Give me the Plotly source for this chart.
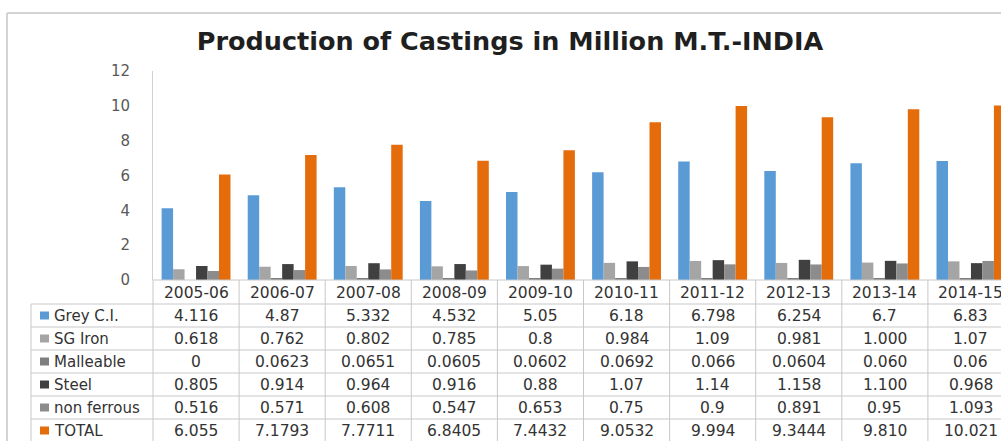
import plotly.graph_objects as go

# ---------------- data ----------------
categories = ["2005-06", "2006-07", "2007-08", "2008-09", "2009-10",
              "2010-11", "2011-12", "2012-13", "2013-14", "2014-15"]

series_names = ["Grey C.I.", "SG Iron", "Malleable", "Steel", "non ferrous", "TOTAL"]

grey_ci_text = ["4.116", "4.87", "5.332", "4.532", "5.05", "6.18", "6.798", "6.254", "6.7", "6.83"]
sg_iron_text = ["0.618", "0.762", "0.802", "0.785", "0.8", "0.984", "1.09", "0.981", "1.000", "1.07"]
malleable_text = ["0", "0.0623", "0.0651", "0.0605", "0.0602", "0.0692", "0.066", "0.0604", "0.060", "0.06"]
steel_text = ["0.805", "0.914", "0.964", "0.916", "0.88", "1.07", "1.14", "1.158", "1.100", "0.968"]
non_ferrous_text = ["0.516", "0.571", "0.608", "0.547", "0.653", "0.75", "0.9", "0.891", "0.95", "1.093"]
total_text = ["6.055", "7.1793", "7.7711", "6.8405", "7.4432", "9.0532", "9.994", "9.3444", "9.810", "10.021"]

table_texts = [grey_ci_text, sg_iron_text, malleable_text, steel_text, non_ferrous_text, total_text]
series_values = [[float(v) for v in t] for t in table_texts]

colors = ["#5B9BD5", "#A5A5A5", "#7F7F7F", "#404040", "#8C8C8C", "#E46C0A"]

# ---------------- layout geometry ----------------
W, H = 1001, 441
ML, MR, MT, MB = 153, 0, 71, 161
PW, PH = W - ML - MR, H - MT - MB
CAT_PX = 86.1
x_range = [-0.5, -0.5 + PW / CAT_PX]


def px(x):
    return (x - ML) / PW


def py(y):
    return (H - MB - y) / PH


fig = go.Figure()
for name, vals, col in zip(series_names, series_values, colors):
    fig.add_trace(go.Bar(x=categories, y=vals, name=name, marker_color=col,
                         marker_line_width=0, showlegend=False))

grid = "#C8C8C8"
shapes = []
# outer chart border
shapes.append(dict(type="line", xref="paper", yref="paper", x0=px(7), x1=px(W + 5),
                   y0=py(13), y1=py(13), line=dict(color="#D4D4D4", width=2)))
shapes.append(dict(type="line", xref="paper", yref="paper", x0=px(7), x1=px(7),
                   y0=py(13), y1=py(H + 5), line=dict(color="#D4D4D4", width=2)))
# table top line
shapes.append(dict(type="line", xref="paper", yref="paper", x0=0, x1=px(W + 5),
                   y0=0, y1=0, line=dict(color=grid, width=1)))
# table row lines
row_top = 304
row_h = 23
for r in range(6):
    yy = row_top + r * row_h
    shapes.append(dict(type="line", xref="paper", yref="paper", x0=px(31), x1=px(W + 5),
                       y0=py(yy), y1=py(yy), line=dict(color=grid, width=1)))
# left legend column border
shapes.append(dict(type="line", xref="paper", yref="paper", x0=px(31), x1=px(31),
                   y0=py(row_top), y1=py(H + 5), line=dict(color=grid, width=1)))
# y-axis continuation through the table
shapes.append(dict(type="line", xref="paper", yref="paper", x0=0, x1=0,
                   y0=0, y1=py(H + 5), line=dict(color=grid, width=1)))
# category boundaries
for k in range(len(categories) - 1):
    shapes.append(dict(type="line", xref="x", yref="paper", x0=k + 0.5, x1=k + 0.5,
                       y0=0, y1=py(H + 5), line=dict(color=grid, width=1)))
# legend keys
for r, col in enumerate(colors):
    cy = row_top + r * row_h + 11.5
    shapes.append(dict(type="rect", xref="paper", yref="paper", x0=px(40), x1=px(49),
                       y0=py(cy - 4), y1=py(cy + 4), fillcolor=col, line=dict(width=0)))

annotations = []
txt_font = dict(family="DejaVu Sans", size=15.5, color="#333333")
# header row categories
for c in categories:
    annotations.append(dict(x=c, xref="x", y=py(292.5), yref="paper", text=c,
                            showarrow=False, font=txt_font, xanchor="center", yanchor="middle"))
# legend labels and values
for r, (name, texts) in enumerate(zip(series_names, table_texts)):
    cy = row_top + r * row_h + 12
    annotations.append(dict(x=px(52), xref="paper", y=py(cy), yref="paper", text=name,
                            showarrow=False, font=dict(family="DejaVu Sans", size=15, color="#333333"),
                            xanchor="left", yanchor="middle"))
    for c, t in zip(categories, texts):
        annotations.append(dict(x=c, xref="x", y=py(cy), yref="paper", text=t,
                                showarrow=False, font=txt_font, xanchor="center", yanchor="middle"))

fig.update_layout(
    width=W, height=H,
    margin=dict(l=ML, r=MR, t=MT, b=MB, pad=0),
    paper_bgcolor="white", plot_bgcolor="white",
    barmode="group", bargap=0.2, bargroupgap=0,
    title=dict(text="<b>Production of Castings in Million M.T.-INDIA</b>",
               x=510 / W, xref="container", xanchor="center",
               y=1 - 41 / H, yref="container", yanchor="middle",
               font=dict(family="DejaVu Sans", size=25.5, color="#1F1F1F")),
    xaxis=dict(type="category", range=x_range, showticklabels=False, showgrid=False,
               zeroline=False, showline=False, ticks=""),
    yaxis=dict(range=[0, 12], dtick=2, showgrid=False, zeroline=False, showline=True,
               linecolor="#D0D0D0", linewidth=1, ticks="", ticklabelstandoff=19,
               tickfont=dict(family="DejaVu Sans", size=15, color="#595959")),
    shapes=shapes,
    annotations=annotations,
)

fig.write_html("out.html", config={"displayModeBar": False},
               post_script="document.body.style.margin='0';")
